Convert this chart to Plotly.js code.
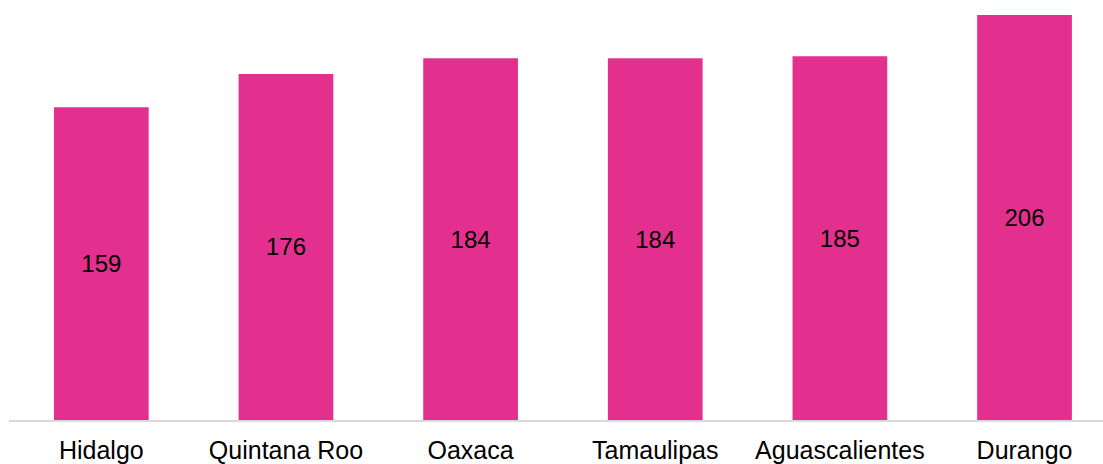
<!DOCTYPE html>
<html>
<head>
<meta charset="utf-8">
<script src="https://cdn.plot.ly/plotly-3.0.1.min.js"></script>
<style>html,body{margin:0;padding:0;background:#fff;}#chart{width:1103px;height:464px;}</style>
</head>
<body>
<div id="chart"></div>
<script>
const categories = ["Hidalgo", "Quintana Roo", "Oaxaca", "Tamaulipas", "Aguascalientes", "Durango"];
const values = [159, 176, 184, 184, 185, 206];

const trace = {
  type: 'bar',
  x: categories,
  y: values,
  marker: {color: '#E3308F'},
  text: values.map(String),
  textposition: 'inside',
  insidetextanchor: 'middle',
  textangle: 0,
  textfont: {family: 'Liberation Sans, Arial, sans-serif', size: 24, color: '#000000'},
  hoverinfo: 'none'
};

const layout = {
  width: 1103, height: 464,
  margin: {l: 9, r: 0, t: 0, b: 44},
  paper_bgcolor: '#ffffff', plot_bgcolor: '#ffffff',
  bargap: 0.487,
  showlegend: false,
  xaxis: {
    type: 'category',
    range: [-0.5, 5.425],
    showline: true, linecolor: '#d9d9d9', linewidth: 1.5,
    ticks: '', showgrid: false, zeroline: false,
    tickfont: {family: 'Liberation Sans, Arial, sans-serif', size: 25, color: '#000000'},
    ticklabelstandoff: 7
  },
  yaxis: {
    range: [0, 213.6],
    visible: false, showgrid: false, zeroline: false
  },
  uniformtext: {mode: false}
};

Plotly.newPlot('chart', [trace], layout, {staticPlot: true, displayModeBar: false});
</script>
</body>
</html>
